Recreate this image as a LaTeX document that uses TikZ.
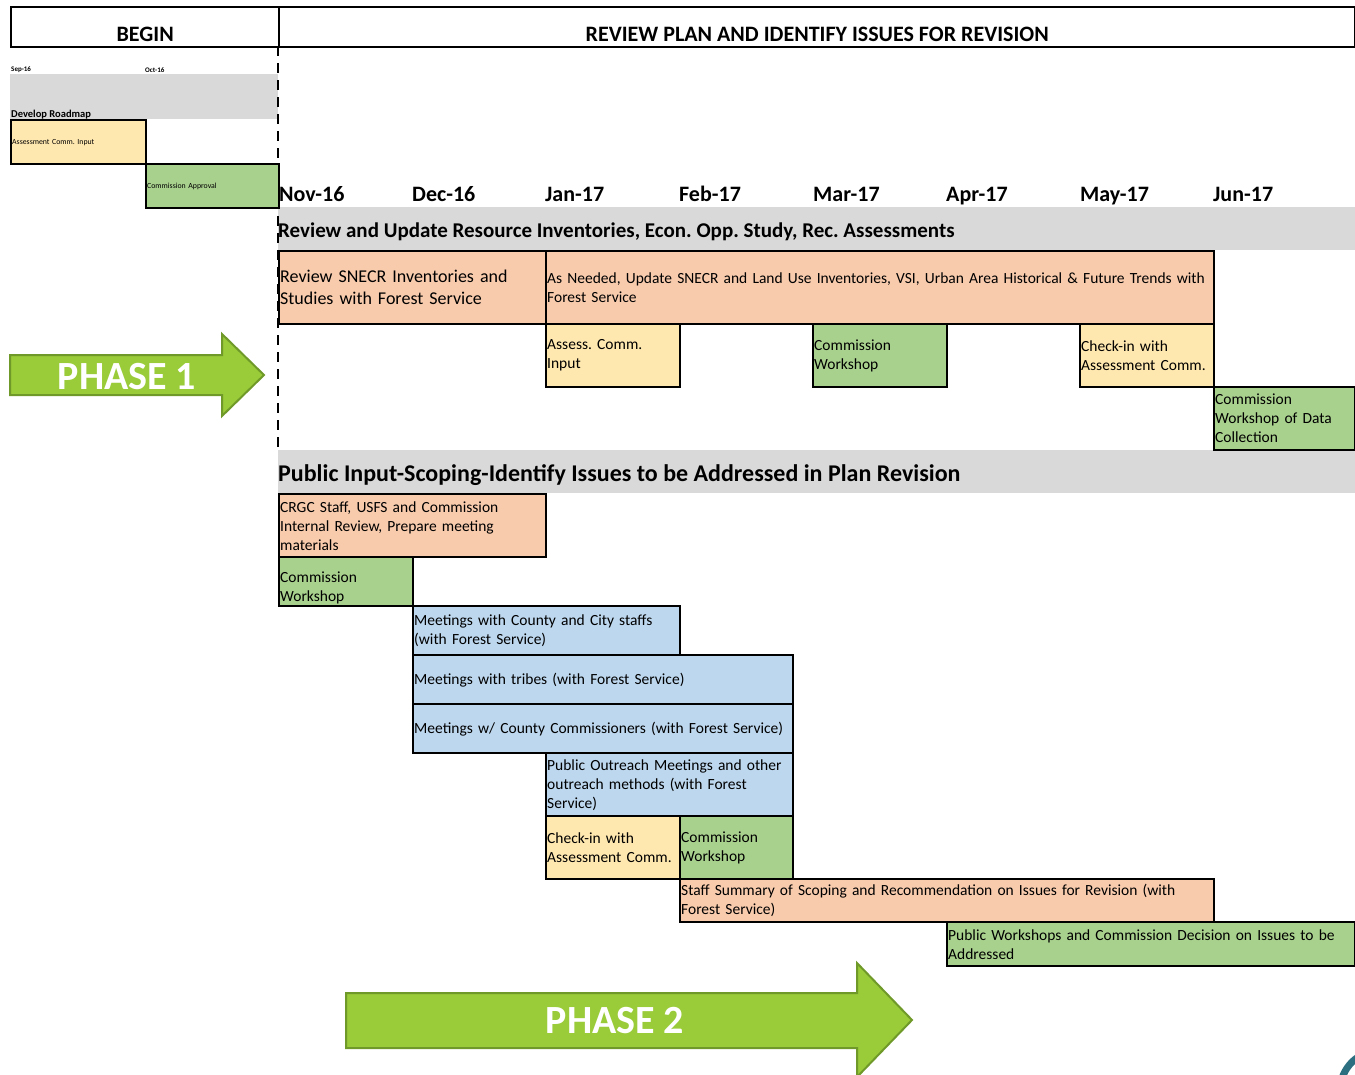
\documentclass[tikz,border=0pt]{standalone}
\usepackage{fontspec}
\setmainfont{Carlito}
\frenchspacing
\definecolor{salmon}{HTML}{F8CBAD}
\definecolor{paleyellow}{HTML}{FFE8AF}
\definecolor{palegreen}{HTML}{A9D18E}
\definecolor{paleblue}{HTML}{BDD7EE}
\definecolor{bandgray}{HTML}{D9D9D9}
\definecolor{arrowgreen}{HTML}{9ACB38}
\definecolor{arrowedge}{HTML}{6F9A2A}
\definecolor{logoteal}{HTML}{2B6F80}
\tikzset{
  task/.style={draw, line width=2.4pt, anchor=north west, inner xsep=1pt, inner ysep=0pt,
    align=left, font=\fontsize{15.5}{19}\selectfont},
  hdr/.style={draw, line width=2.4pt, anchor=north west, inner sep=0pt, minimum height=40pt,
    text height=34pt, text depth=6pt, font=\bfseries\fontsize{22}{26}\selectfont},
  month/.style={anchor=base west, inner sep=0pt, font=\bfseries\fontsize{22}{26}\selectfont},
  section/.style={anchor=base west, inner sep=0pt, font=\bfseries\fontsize{21}{25}\selectfont},
  phase/.style={fill=arrowgreen, draw=arrowedge, line width=2pt},
  phasetxt/.style={text=white, inner sep=0pt, font=\bfseries\fontsize{40}{48}\selectfont},
}
\begin{document}
\begin{tikzpicture}[x=1pt,y=-1pt]
  \useasboundingbox (0,0) rectangle (1355,1074);
  % header
  \node[hdr, minimum width=268pt] (begin) at (10,6) {BEGIN};
  \node[hdr, minimum width=1076pt] (review) at (278,6) {REVIEW PLAN AND IDENTIFY ISSUES FOR REVISION};
  % begin column
  \node[anchor=west, inner sep=0pt, font=\bfseries\fontsize{7}{8}\selectfont] (sep) at (11,70) {Sep-16};
  \node[anchor=west, inner sep=0pt, font=\bfseries\fontsize{7}{8}\selectfont] (oct) at (145,70) {Oct-16};
  \fill[bandgray] (10,74) rectangle (278,119);
  \node[anchor=base west, inner sep=0pt, font=\bfseries\fontsize{10.5}{12}\selectfont] (road) at (11,117) {Develop Roadmap};
  % bands
  \fill[bandgray] (278,207) rectangle (1355,250);
  \fill[bandgray] (278,450) rectangle (1355,493);
  \draw[line width=2.4pt, dash pattern=on 10pt off 7pt] (278,46) -- (278,450);
  \node[task, fill=paleyellow, text width=133pt, minimum height=44pt, font=\fontsize{7.8}{9}\selectfont] (asmt) at (10,119) {Assessment Comm. Input};
  \node[task, fill=palegreen, text width=131pt, minimum height=44pt, font=\fontsize{7.8}{9}\selectfont] (approve) at (145,163) {Commission Approval};
  % months
  \node[month] (nov) at (279,201) {Nov-16};
  \node[month] (dec) at (412,201) {Dec-16};
  \node[month] (jan) at (545,201) {Jan-17};
  \node[month] (feb) at (679,201) {Feb-17};
  \node[month] (mar) at (813,201) {Mar-17};
  \node[month] (apr) at (946,201) {Apr-17};
  \node[month] (may) at (1080,201) {May-17};
  \node[month] (jun) at (1213,201) {Jun-17};
  % phase 1
  \node[section] (inv) at (278,237) {Review and Update Resource Inventories, Econ. Opp. Study, Rec. Assessments};
  \node[task, fill=salmon, text width=265pt, minimum height=73pt, font=\fontsize{18}{22}\selectfont] (revinv) at (278,250) {Review SNECR Inventories and\\Studies with Forest Service};
  \node[task, fill=salmon, text width=666pt, minimum height=73pt] (updinv) at (545,250) {As Needed, Update SNECR and Land Use Inventories, VSI, Urban Area Historical \& Future Trends with\\Forest Service};
  \node[task, fill=paleyellow, text width=132pt, minimum height=63pt] (asin) at (545,323) {Assess. Comm.\\Input};
  \node[task, fill=palegreen, text width=132pt, minimum height=63pt] (ws1) at (812,323) {Commission\\Workshop};
  \node[task, fill=paleyellow, text width=132pt, minimum height=63pt] (chk1) at (1079,323) {Check-in with\\Assessment Comm.};
  \node[task, fill=palegreen, text width=139pt, minimum height=63pt] (wsdata) at (1213,386) {Commission\\Workshop of Data\\Collection};
  % phase 2
  \node[section, font=\bfseries\fontsize{24}{28}\selectfont] (pub) at (278,481) {Public Input-Scoping-Identify Issues to be Addressed in Plan Revision};
  \node[task, fill=salmon, text width=265pt, minimum height=63pt] (crgc) at (278,493) {CRGC Staff, USFS and Commission\\Internal Review, Prepare meeting\\materials};
  \node[task, fill=palegreen, text width=132pt, minimum height=49pt] (ws2) at (278,556) {\rule{0pt}{24pt}Commission\\Workshop};
  \node[task, fill=paleblue, text width=265pt, minimum height=49pt] (city) at (412,605) {Meetings with County and City staffs\\(with Forest Service)};
  \node[task, fill=paleblue, text width=378pt, minimum height=49pt] (tribes) at (412,654) {Meetings with tribes (with Forest Service)};
  \node[task, fill=paleblue, text width=378pt, minimum height=49pt] (cmrs) at (412,703) {Meetings w/ County Commissioners (with Forest Service)};
  \node[task, fill=paleblue, text width=245pt, minimum height=63pt] (outreach) at (545,752) {Public Outreach Meetings and other\\outreach methods (with Forest\\Service)};
  \node[task, fill=paleyellow, text width=132pt, minimum height=63pt] (chk2) at (545,815) {Check-in with\\Assessment Comm.};
  \node[task, fill=palegreen, text width=111pt, minimum height=63pt] (ws3) at (679,815) {Commission\\Workshop};
  \node[task, fill=salmon, text width=532pt, minimum height=43pt] (summary) at (679,878) {Staff Summary of Scoping and Recommendation on Issues for Revision (with\\Forest Service)};
  \node[task, fill=palegreen, text width=406pt, minimum height=44pt] (pubws) at (946,921) {Public Workshops and Commission Decision on Issues to be\\Addressed};
  % arrows
  \draw[phase] (10,355) -- (222,355) -- (222,334) -- (264,375) -- (222,416) -- (222,395) -- (10,395) -- cycle;
  \node[phasetxt] (ph1) at (127,377) {PHASE 1};
  \draw[phase] (346,993) -- (857,993) -- (857,963) -- (912,1020) -- (857,1077) -- (857,1048) -- (346,1048) -- cycle;
  \node[phasetxt] (ph2) at (615,1021) {PHASE 2};
  % logo edge
  \draw[logoteal, line width=7pt] (1381,1091) circle [radius=41pt];
\end{tikzpicture}
\end{document}
